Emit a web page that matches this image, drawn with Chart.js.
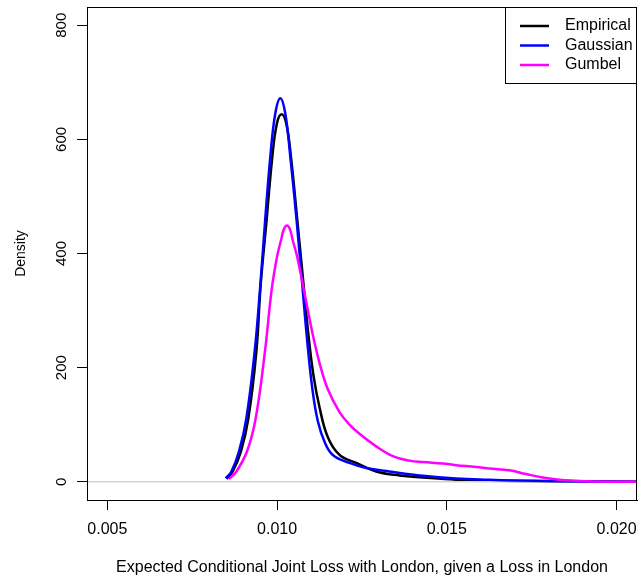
<!DOCTYPE html>
<html>
<head>
<meta charset="utf-8">
<script src="https://cdn.jsdelivr.net/npm/chart.js@4.4.1/dist/chart.umd.min.js"></script>
<style>
  body { margin: 0; background: #fff; }
  canvas { display: block; }
</style>
</head>
<body>
<canvas id="myChart" width="641" height="580"></canvas>
<script>
// axis limits (R adds 4% around xlim = c(0.005, 0.020), ylim = c(0, 800))
var xMin = 0.0044, xMax = 0.0206;
var yMin = -32, yMax = 832;
var xTicks = [0.005, 0.010, 0.015, 0.020];
var yTicks = [0, 200, 400, 600, 800];

// Empirical density
var empX = [0.008515, 0.008691, 0.008935, 0.009153, 0.009388, 0.009515, 0.009682, 0.009859, 0.009994,
            0.010132, 0.010269, 0.010406, 0.010603, 0.010779, 0.010926, 0.011074, 0.01125, 0.011494,
            0.011838, 0.012329, 0.012918, 0.013603, 0.014288, 0.01527, 0.01625, 0.01772, 0.02057];
var empY = [5, 18, 53, 111, 228, 345, 453, 570, 628,
            644, 628, 570, 453, 345, 255, 185, 130, 78,
            47, 33, 18, 11, 7.5, 3.5, 2, 1, 0.1];

// Gaussian copula
var gauX = [0.008485, 0.008653, 0.008876, 0.009094, 0.009338, 0.009506, 0.009641, 0.0098, 0.009945,
            0.010094, 0.010241, 0.010388, 0.010582, 0.010741, 0.010897, 0.011044, 0.0112, 0.011397,
            0.011641, 0.012132, 0.012624, 0.013309, 0.014288, 0.01527, 0.01625, 0.016985, 0.018309, 0.02057];
var gauY = [6, 18, 53, 111, 228, 345, 453, 570, 645,
            672, 645, 570, 453, 345, 240, 160, 106, 70,
            47, 33, 24, 18, 10.5, 5.8, 3.5, 2.3, 1, 0.2];

// Gumbel copula
var gumX = [0.008582, 0.0088, 0.009112, 0.009368, 0.009641, 0.009838, 0.01, 0.010118, 0.010195, 0.010288,
            0.010381, 0.010456, 0.010588, 0.010759, 0.011053, 0.01125, 0.011494, 0.011838, 0.012132, 0.012426,
            0.012918, 0.013406, 0.013897, 0.014288, 0.014876, 0.01527, 0.015859, 0.01625, 0.016838, 0.017329,
            0.017818, 0.018309, 0.0188, 0.019288, 0.02057];
var gumY = [4.7, 18, 53, 111, 228, 336, 395, 424, 442, 449,
            442, 424, 395, 345, 257, 208, 162, 122, 100, 84,
            62, 45, 37, 34.5, 32, 29, 26, 23, 20, 13.5,
            7.5, 3.5, 1.7, 0.5, 0.05];

var seriesNames = ["Empirical", "Gaussian", "Gumbel"];
var seriesColors = ["#000000", "#0000ff", "#ff00ff"];

const toPoints = (xs, ys) => xs.map((x, i) => ({x: x, y: ys[i]}));
const font = "'Liberation Sans', Arial, Helvetica, sans-serif";

// box round the plot and the legend at top right, as R draws them
const rFrame = {
    id: "rFrame",
    afterDraw(chart) {
        const ctx = chart.ctx, a = chart.chartArea;
        ctx.save();
        ctx.strokeStyle = "#000";
        ctx.lineWidth = 1;
        ctx.strokeRect(a.left + 0.5, a.top + 0.5, a.right - a.left - 1, a.bottom - a.top);

        const bx = a.right - 132, by = a.top;
        ctx.fillStyle = "#fff";
        ctx.fillRect(bx, by, 132, 76);
        ctx.strokeRect(bx + 0.5, by + 0.5, 131, 76);
        ctx.font = "16px " + font;
        ctx.textBaseline = "middle";
        ctx.textAlign = "left";
        seriesNames.forEach((name, i) => {
            const ry = by + 19 + i * 19.5;
            ctx.strokeStyle = seriesColors[i];
            ctx.lineWidth = 2.5;
            ctx.beginPath();
            ctx.moveTo(bx + 15, ry);
            ctx.lineTo(bx + 44, ry);
            ctx.stroke();
            ctx.fillStyle = "#000";
            ctx.fillText(name, bx + 60, ry);
        });
        ctx.restore();
    }
};

new Chart("myChart", {
    type: "line",
    data: {
        datasets: [
            {label: seriesNames[0], data: toPoints(empX, empY), borderColor: seriesColors[0], order: 3},
            {label: seriesNames[1], data: toPoints(gauX, gauY), borderColor: seriesColors[1], order: 1},
            {label: seriesNames[2], data: toPoints(gumX, gumY), borderColor: seriesColors[2], order: 0},
            {label: "zero", data: toPoints([xMin, xMax], [0, 0]), borderColor: "#d3d3d3", borderWidth: 1.5, order: 2, tension: 0}
        ]
    },
    options: {
        responsive: false,
        animation: false,
        devicePixelRatio: 1,
        layout: {padding: {top: 7, right: 4, left: 0, bottom: 0}},
        elements: {
            point: {radius: 0},
            line: {borderWidth: 2.5, tension: 0.4, fill: false}
        },
        plugins: {legend: {display: false}, tooltip: {enabled: false}},
        scales: {
            x: {
                type: "linear",
                min: xMin,
                max: xMax,
                afterBuildTicks: s => { s.ticks = xTicks.map(v => ({value: v})); },
                afterFit: s => { s.height = 80; s.paddingLeft = 0; s.paddingRight = 0; },
                grid: {drawOnChartArea: false, drawTicks: true, tickLength: 10, tickColor: "#000", color: "#000"},
                border: {display: true, color: "#000", width: 1},
                ticks: {
                    autoSkip: false, maxRotation: 0, padding: 10, color: "#000",
                    font: {family: font, size: 16},
                    callback: v => v.toFixed(3)
                },
                title: {
                    display: true,
                    text: "Expected Conditional Joint Loss with London, given a Loss in London",
                    color: "#000", font: {family: font, size: 16}, padding: {top: 0, bottom: 3}
                }
            },
            y: {
                type: "linear",
                min: yMin,
                max: yMax,
                afterBuildTicks: s => { s.ticks = yTicks.map(v => ({value: v})); },
                afterFit: s => { s.width = 87; s.paddingTop = 0; s.paddingBottom = 0; },
                grid: {drawOnChartArea: false, drawTicks: true, tickLength: 10, tickColor: "#000", color: "#000"},
                border: {display: true, color: "#000", width: 1},
                ticks: {
                    autoSkip: false, minRotation: 90, maxRotation: 90, crossAlign: "center",
                    padding: 3, color: "#000", font: {family: font, size: 15}
                },
                title: {
                    display: true, text: "Density", color: "#000",
                    font: {family: font, size: 14}, padding: {top: 13, bottom: 0}
                }
            }
        }
    },
    plugins: [rFrame]
});
</script>
</body>
</html>
